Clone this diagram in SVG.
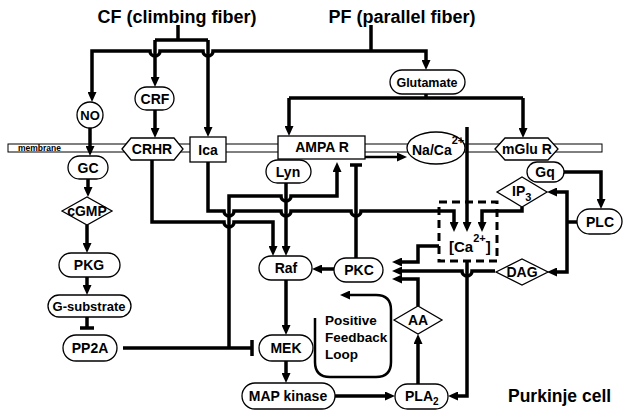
<svg xmlns="http://www.w3.org/2000/svg" width="623" height="413" viewBox="0 0 623 413">
<style>
  text { font-family: "Liberation Sans", Arial, sans-serif; font-weight: bold; fill: #000; }
  .lbl { font-size: 14px; text-anchor: middle; }
  .node { fill: #fff; stroke: #000; stroke-width: 1.3; }
  .c { fill: none; stroke: #000; stroke-width: 3.5; }
  .thin { fill: none; stroke: #000; stroke-width: 2.5; }
  .title { font-size: 18px; text-anchor: middle; }
</style>
<defs>
  <marker id="ah" markerUnits="userSpaceOnUse" markerWidth="10" markerHeight="9" viewBox="0 0 10 9" refX="4" refY="4.5" orient="auto-start-reverse">
    <path d="M0,0 L10,4.5 L0,9 z" fill="#000"/>
  </marker>
</defs>
<rect width="623" height="413" fill="#fff"/>

<text class="title" x="177" y="23">CF (climbing fiber)</text>
<text class="title" x="402" y="23">PF (parallel fiber)</text>
<text x="508" y="402" style="font-size:17.5px">Purkinje cell</text>

<g id="membrane">
  <rect x="8" y="144" width="594" height="8" fill="#fff" stroke="#000" stroke-width="1"/>
  <text x="18" y="151" style="font-size:8.5px">membrane</text>
</g>

<g id="connectors">
  <path class="c" d="M178,25 V40 M155,40 H208"/>
  <path class="c" d="M155,40 V81" marker-end="url(#ah)"/>
  <path class="c" d="M208,40 V131" marker-end="url(#ah)"/>
  <path class="c" d="M371,25 V51"/>
  <path class="c" d="M371,51 H213 A5,5 0 0 1 203,51 H160 A5,5 0 0 1 150,51 H92 V96" marker-end="url(#ah)"/>
  <path class="c" d="M371,51 H426 V64" marker-end="url(#ah)"/>
  <path class="c" d="M426,94 V98 M289,98 H523"/>
  <path class="c" d="M289,98 V130" marker-end="url(#ah)"/>
  <path class="c" d="M523,98 V132" marker-end="url(#ah)"/>
  <path class="c" d="M155,110 V132" marker-end="url(#ah)"/>
  <path class="c" d="M90,128 V150" marker-end="url(#ah)"/>
  <path class="c" d="M88,179 V191" marker-end="url(#ah)"/>
  <path class="c" d="M87,225 V247" marker-end="url(#ah)"/>
  <path class="c" d="M87,277 V289" marker-end="url(#ah)"/>
  <path class="c" d="M87,317 V328 M80,328 H94"/>
  <path class="c" d="M123,348 H252 M252,340 V356"/>
  <path class="c" d="M229,348 V196 H281 A5,5 0 0 0 291,196 H337 V168" marker-end="url(#ah)"/>
  <path class="c" d="M152,160 V222 H224 A5,5 0 0 0 234,222 H273 V250" marker-end="url(#ah)"/>
  <path class="c" d="M208,162 V211 H224 A5,5 0 0 0 234,211 H281 A5,5 0 0 0 291,211 H351 A5,5 0 0 0 361,211 H454 V226" marker-end="url(#ah)"/>
  <path class="c" d="M286,183 V250" marker-end="url(#ah)"/>
  <path class="c" d="M286,280 V329" marker-end="url(#ah)"/>
  <path class="c" d="M286,361 V377" marker-end="url(#ah)"/>
  <path class="c" d="M335,396 H389" marker-end="url(#ah)"/>
  <path class="c" d="M418,384 V340" marker-end="url(#ah)"/>
  <path class="c" d="M418,306 V279 H398" marker-end="url(#ah)"/>
  <path class="c" d="M334,269 H318" marker-end="url(#ah)"/>
  <path class="c" d="M356,258 V165 M350,165 H362"/>
  <path class="thin" d="M365,157 H401" marker-end="url(#ah)"/>
  <path class="c" d="M467,127 V226" marker-end="url(#ah)"/>
  <path class="c" d="M522,207 V211 H482 V226" marker-end="url(#ah)"/>
  <path class="c" d="M439,246 H418 V262 H398" marker-end="url(#ah)"/>
  <path class="c" d="M495,271 H472 A5,5 0 0 1 462,271 H398" marker-end="url(#ah)"/>
  <path class="c" d="M467,262 V396 H454" marker-end="url(#ah)"/>
  <path class="c" d="M564,172 H601 V203" marker-end="url(#ah)"/>
  <path class="c" d="M577,222 H567"/>
  <path class="c" d="M553,192 H567 V272 H553" marker-start="url(#ah)" marker-end="url(#ah)"/>
  <path class="thin" d="M315,318 V362 Q315,377 330,377 H376 Q391,377 391,362 V310 Q391,295 376,295 H346" marker-end="url(#ah)"/>
</g>

<g id="loop-label">
  <text x="325" y="325" style="font-size:13.5px">Positive</text>
  <text x="325" y="342" style="font-size:13.5px">Feedback</text>
  <text x="325" y="359" style="font-size:13.5px">Loop</text>
</g>

<g id="NO"><circle class="node" cx="90" cy="115" r="13"/><text class="lbl" x="90" y="120" style="font-size:13px">NO</text></g>
<g id="CRF"><rect class="node" x="135" y="87" width="39" height="23" rx="11.5"/><text class="lbl" x="155" y="104">CRF</text></g>
<g id="CRHR"><polygon class="node" points="122,149 131,138 174,138 183,149 174,160 131,160"/><text class="lbl" x="152" y="154">CRHR</text></g>
<g id="Ica"><rect class="node" x="190" y="137" width="36" height="25"/><text class="lbl" x="208" y="155">Ica</text></g>
<g id="AMPAR"><rect class="node" x="278" y="136" width="87" height="23"/><text class="lbl" x="322" y="152">AMPA R</text></g>
<g id="NaCa"><ellipse class="node" cx="436" cy="148" rx="29" ry="16"/><text x="412" y="155" style="font-size:14px">Na/Ca<tspan dy="-11" style="font-size:11px">2+</tspan></text></g>
<g id="mGluR"><polygon class="node" points="495,149 505,138 548,138 558,149 548,160 505,160"/><text class="lbl" x="527" y="154">mGlu R</text></g>
<g id="Glutamate"><rect class="node" x="390" y="70" width="75" height="24" rx="12"/><text class="lbl" x="427" y="87" style="font-size:12.5px">Glutamate</text></g>
<g id="GC"><rect class="node" x="68" y="156" width="40" height="23" rx="11.5"/><text class="lbl" x="88" y="173">GC</text></g>
<g id="cGMP"><polygon class="node" points="62,211 87,197 112,211 87,225"/><text class="lbl" x="87" y="216">cGMP</text></g>
<g id="PKG"><rect class="node" x="59" y="253" width="61" height="24" rx="12"/><text class="lbl" x="89" y="270">PKG</text></g>
<g id="Gsubstrate"><rect class="node" x="48" y="295" width="83" height="22" rx="11"/><text class="lbl" x="89" y="311" style="font-size:13px">G-substrate</text></g>
<g id="PP2A"><rect class="node" x="63" y="335" width="54" height="26" rx="13"/><text class="lbl" x="90" y="353">PP2A</text></g>
<g id="Lyn"><rect class="node" x="266" y="160" width="45" height="23" rx="11.5"/><text class="lbl" x="288" y="177">Lyn</text></g>
<g id="Raf"><rect class="node" x="259" y="256" width="53" height="24" rx="12"/><text class="lbl" x="286" y="273">Raf</text></g>
<g id="PKC"><rect class="node" x="334" y="258" width="49" height="24" rx="12"/><text class="lbl" x="359" y="275">PKC</text></g>
<g id="MEK"><rect class="node" x="259" y="335" width="54" height="26" rx="13"/><text class="lbl" x="286" y="353">MEK</text></g>
<g id="MAPkinase"><rect class="node" x="242" y="383" width="93" height="26" rx="13"/><text class="lbl" x="288" y="401">MAP kinase</text></g>
<g id="PLA2"><rect class="node" x="395" y="384" width="53" height="25" rx="12.5"/><text x="405" y="401" style="font-size:14px">PLA<tspan dy="4" style="font-size:10px">2</tspan></text></g>
<g id="AA"><polygon class="node" points="394,320 418,306 442,320 418,334"/><text class="lbl" x="418" y="325">AA</text></g>
<g id="IP3"><polygon class="node" points="497,192 522,177 547,192 522,207"/><text x="512" y="196" style="font-size:14px">IP<tspan dy="5" style="font-size:11px">3</tspan></text></g>
<g id="DAG"><polygon class="node" points="496,272 522,259 548,272 522,285"/><text class="lbl" x="522" y="277">DAG</text></g>
<g id="Gq"><rect class="node" x="527" y="162" width="37" height="20" rx="10"/><text class="lbl" x="545" y="177">Gq</text></g>
<g id="PLC"><rect class="node" x="577" y="209" width="45" height="25" rx="12.5"/><text class="lbl" x="600" y="227">PLC</text></g>
<g id="Ca"><rect x="439" y="202" width="58" height="59" fill="none" stroke="#000" stroke-width="3" stroke-dasharray="8,5"/><text x="449" y="252" style="font-size:15px">[Ca<tspan dy="-10" style="font-size:11px">2+</tspan><tspan dy="10">]</tspan></text></g>
</svg>
